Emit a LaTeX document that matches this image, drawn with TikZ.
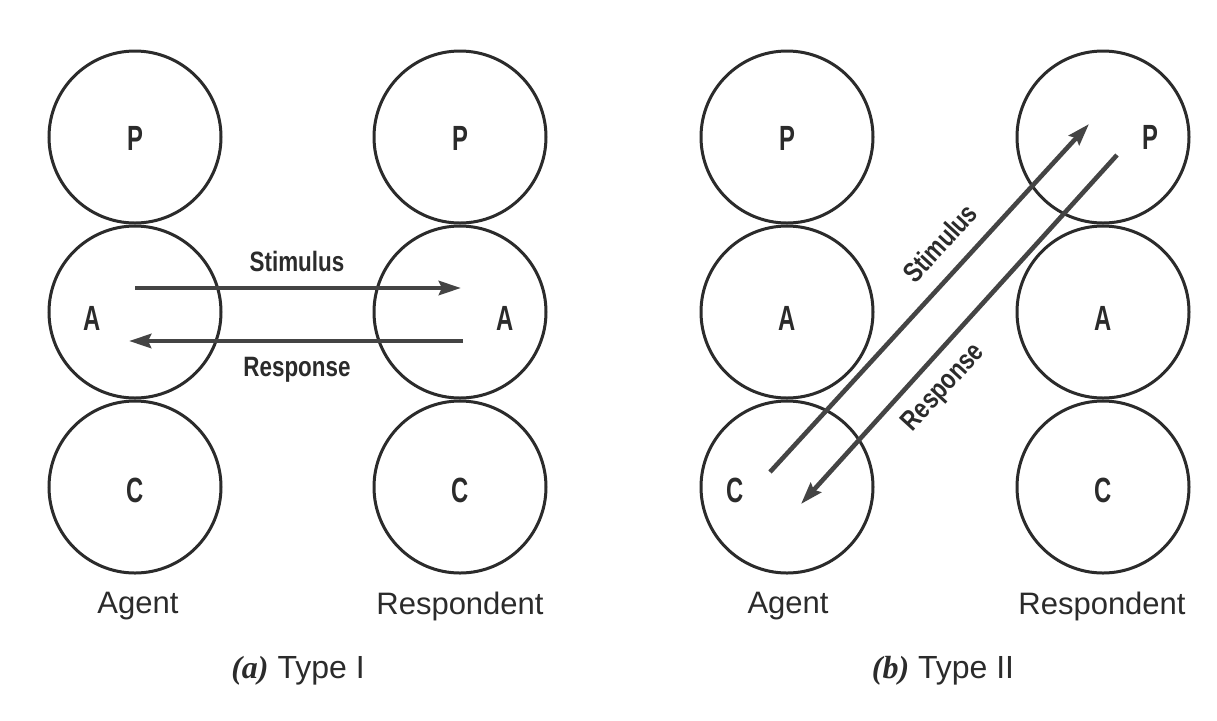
\documentclass[tikz,border=0pt]{standalone}
\usepackage{fontspec}
\setmainfont{Liberation Sans}
\newfontfamily\capfont{Liberation Serif}
\usetikzlibrary{arrows.meta}
\definecolor{ink}{HTML}{2B2B2B}
\definecolor{arrink}{HTML}{444444}
\tikzset{
  circ/.style={circle,draw=ink,line width=1.5pt,minimum size=86pt,inner sep=0pt},
  letter/.style={text=ink,font=\fontsize{17.5}{17.5}\selectfont\bfseries,inner sep=0pt},
  arr/.style={draw=arrink,line width=2.3pt,-{Stealth[length=11pt,width=7pt,inset=1.5pt]}},
  flow/.style={text=ink,font=\fontsize{14}{14}\selectfont\bfseries,inner sep=0pt},
  who/.style={text=ink,font=\fontsize{15.5}{15.5}\selectfont,inner sep=0pt},
  captext/.style={text=ink,font=\fontsize{16}{16}\selectfont,inner sep=0pt}
}
\newcommand{\cond}[1]{\scalebox{0.68}[1]{#1}}
\newcommand{\narrow}[1]{\scalebox{0.8}[1]{#1}}
\begin{document}
\begin{tikzpicture}[x=0.5pt,y=-0.5pt]
\useasboundingbox[fill=white] (0,0) rectangle (1217,720);
% ---- (a) Type I ----
\node[circ] (aLP) at (135,137) {};
\node[circ] (aLA) at (135,312) {};
\node[circ] (aLC) at (135,487) {};
\node[circ] (aRP) at (460,137) {};
\node[circ] (aRA) at (460,312) {};
\node[circ] (aRC) at (460,487) {};
\node[letter] (aLPt) at (135,138) {\cond{P}};
\node[letter] (aLAt) at (92,318) {\cond{A}};
\node[letter] (aLCt) at (135,490) {\cond{C}};
\node[letter] (aRPt) at (460,138) {\cond{P}};
\node[letter] (aRAt) at (505,318) {\cond{A}};
\node[letter] (aRCt) at (460,490) {\cond{C}};
\coordinate (as1) at (135,288);
\coordinate (as2) at (461,288);
\coordinate (ar1) at (463,341);
\coordinate (ar2) at (129,341);
\draw[arr] (as1) -- (as2);
\draw[arr] (ar1) -- (ar2);
\node[flow] (aStim) at (297,261) {\narrow{Stimulus}};
\node[flow] (aResp) at (297,370) {\narrow{Response}};
\node[who] (aAgent) at (138,606) {Agent};
\node[who] (aResp2) at (460,606) {Respondent};
\node[captext] (aCap) at (298,671) {{\capfont\bfseries\itshape (a)} Type I};
% ---- (b) Type II ----
\node[circ] (bLP) at (787,137) {};
\node[circ] (bLA) at (787,312) {};
\node[circ] (bLC) at (787,487) {};
\node[circ] (bRP) at (1103,137) {};
\node[circ] (bRA) at (1103,312) {};
\node[circ] (bRC) at (1103,487) {};
\node[letter] (bLPt) at (787,138) {\cond{P}};
\node[letter] (bLAt) at (787,318) {\cond{A}};
\node[letter] (bLCt) at (735,490) {\cond{C}};
\node[letter] (bRPt) at (1150,137) {\cond{P}};
\node[letter] (bRAt) at (1103,318) {\cond{A}};
\node[letter] (bRCt) at (1103,490) {\cond{C}};
\coordinate (bs1) at (770,472);
\coordinate (bs2) at (1089,124);
\coordinate (br1) at (1117,155);
\coordinate (br2) at (801,504);
\draw[arr] (bs1) -- (bs2);
\draw[arr] (br1) -- (br2);
\node[flow,rotate=47.5] (bStim) at (940,243) {\narrow{Stimulus}};
\node[flow,rotate=47.5] (bResp) at (944,388) {\narrow{Response}};
\node[who] (bAgent) at (788,606) {Agent};
\node[who] (bResp2) at (1102,606) {Respondent};
\node[captext] (bCap) at (943,671) {{\capfont\bfseries\itshape (b)} Type II};
\end{tikzpicture}
\end{document}
